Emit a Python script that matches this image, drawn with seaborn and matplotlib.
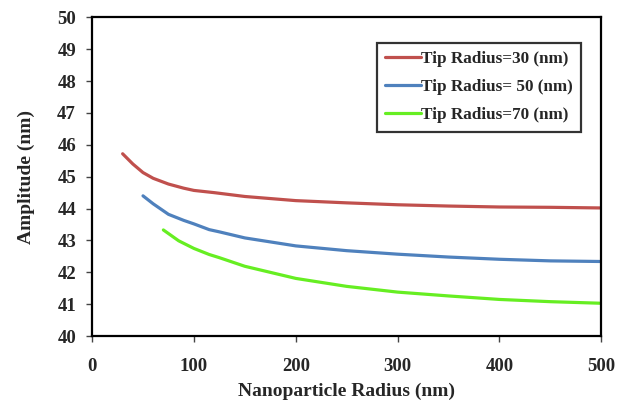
import numpy as np
import pandas as pd
import matplotlib
matplotlib.use("Agg")
import matplotlib.pyplot as plt
import seaborn as sns

# Data
x_r30 = [30, 40, 50, 60, 75, 90, 100, 120, 150, 200, 250, 300, 350, 400, 450, 500]
y_r30 = [45.72, 45.40, 45.13, 44.95, 44.77, 44.64, 44.57, 44.50, 44.38, 44.25, 44.18, 44.12, 44.08, 44.05, 44.04, 44.02]
x_r50 = [50, 60, 75, 90, 100, 115, 125, 150, 200, 250, 300, 350, 400, 450, 500]
y_r50 = [44.40, 44.15, 43.82, 43.63, 43.52, 43.34, 43.27, 43.08, 42.83, 42.68, 42.57, 42.48, 42.41, 42.36, 42.34]
x_r70 = [70, 85, 100, 115, 125, 150, 200, 250, 300, 350, 400, 450, 500]
y_r70 = [43.33, 42.99, 42.75, 42.56, 42.46, 42.19, 41.81, 41.56, 41.38, 41.26, 41.15, 41.08, 41.03]
labels = ["Tip Radius=30 (nm)", "Tip Radius= 50 (nm)", "Tip Radius=70 (nm)"]
colors = ["#C0504D", "#4F81BD", "#66EE22"]

df = pd.concat([
    pd.DataFrame({"x": x_r30, "y": y_r30, "series": labels[0]}),
    pd.DataFrame({"x": x_r50, "y": y_r50, "series": labels[1]}),
    pd.DataFrame({"x": x_r70, "y": y_r70, "series": labels[2]}),
], ignore_index=True)

sns.set_style("white")
plt.rcParams["font.family"] = ["Liberation Serif", "DejaVu Serif"]
plt.rcParams["font.weight"] = "bold"

fig = plt.figure(figsize=(6.18, 4.03), dpi=100)
ax = fig.add_axes([0.149, 0.166, 0.824, 0.791])

sns.lineplot(data=df, x="x", y="y", hue="series", palette=dict(zip(labels, colors)),
             linewidth=2.3, ax=ax, sort=True, estimator=None)

ax.set_xlim(0, 500)
ax.set_ylim(40, 50)
ax.set_xticks(np.arange(0, 501, 100))
ax.set_yticks(np.arange(40, 51, 1))
ax.tick_params(axis="both", direction="out", length=4.5, width=1, color="#444444",
               labelsize=13.5, bottom=True, left=True)
ax.tick_params(axis="x", pad=11)
ax.tick_params(axis="y", pad=7)
for lab in ax.get_xticklabels() + ax.get_yticklabels():
    lab.set_fontweight("bold")
for sp in ax.spines.values():
    sp.set_color("black")
    sp.set_linewidth(1.6)
    sp.set_visible(True)

ax.set_xlabel("Nanoparticle Radius (nm)", fontsize=14, fontweight="bold", labelpad=6)
ax.set_ylabel("Amplitude (nm)", fontsize=14, fontweight="bold", labelpad=16)

leg = ax.legend(loc="upper right", bbox_to_anchor=(0.961, 0.921), frameon=True,
                fancybox=False, edgecolor="black",
                prop={"weight": "bold", "size": 12.3}, handlelength=2.1,
                handletextpad=0.0, borderpad=0.5, labelspacing=0.7,
                borderaxespad=0)
leg.get_frame().set_linewidth(1.6)

fig.savefig("out.png", dpi=100)
